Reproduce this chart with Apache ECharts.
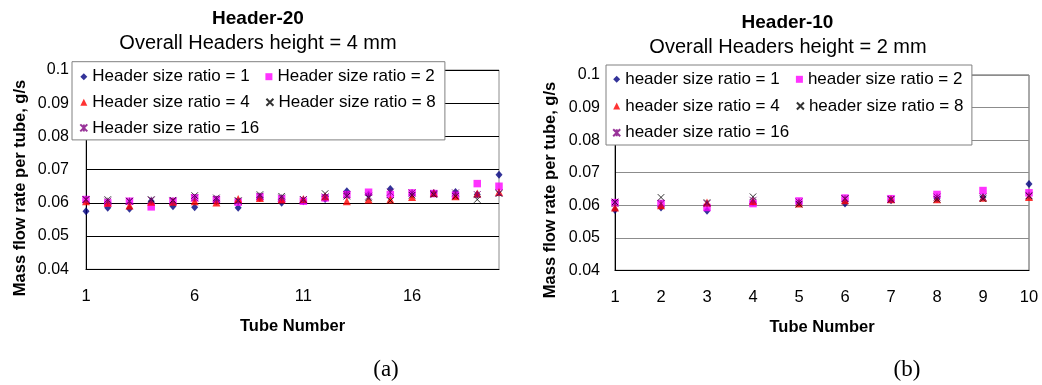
<!DOCTYPE html>
<html>
<head>
<meta charset="utf-8">
<script src="https://cdn.jsdelivr.net/npm/echarts@6/dist/echarts.min.js"></script>
<style>
html,body{margin:0;padding:0;background:#fff;}
#chart{width:1042px;height:385px;}
</style>
</head>
<body>
<div id="chart"></div>
<script>
// ---- Data ----
const tubesA = [1,2,3,4,5,6,7,8,9,10,11,12,13,14,15,16,17,18,19,20];
const tubesB = [1,2,3,4,5,6,7,8,9,10];

const namesA = ['Header size ratio = 1','Header size ratio = 2','Header size ratio = 4','Header size ratio = 8','Header size ratio = 16'];
const namesB = ['header size ratio = 1','header size ratio = 2','header size ratio = 4','header size ratio = 8','header size ratio = 16'];

const a_r1  = [0.0575,0.0585,0.0582,0.0605,0.0590,0.0587,0.0605,0.0585,0.0615,0.0600,0.0605,0.0612,0.0635,0.0625,0.0642,0.0625,0.0630,0.0633,0.0625,0.0685];
const a_r2  = [0.0610,0.0600,0.0605,0.0588,0.0605,0.0615,0.0610,0.0602,0.0618,0.0612,0.0605,0.0615,0.0625,0.0632,0.0625,0.0630,0.0628,0.0623,0.0658,0.0650];
const a_r4  = [0.0605,0.0600,0.0592,0.0603,0.0603,0.0605,0.0601,0.0612,0.0615,0.0610,0.0612,0.0620,0.0605,0.0610,0.0610,0.0618,0.0630,0.0620,0.0628,0.0633];
const a_r8  = [0.0610,0.0610,0.0605,0.0610,0.0608,0.0622,0.0615,0.0607,0.0625,0.0620,0.0610,0.0628,0.0620,0.0615,0.0607,0.0623,0.0625,0.0620,0.0610,0.0628];
const a_r16 = [0.0610,0.0605,0.0605,0.0608,0.0605,0.0615,0.0610,0.0605,0.0620,0.0615,0.0610,0.0618,0.0625,0.0620,0.0632,0.0630,0.0628,0.0630,0.0625,0.0630];

const b_r1  = [0.0585,0.0593,0.0583,0.0610,0.0607,0.0605,0.0615,0.0620,0.0625,0.0665];
const b_r2  = [0.0608,0.0605,0.0593,0.0605,0.0613,0.0622,0.0620,0.0633,0.0645,0.0638];
const b_r4  = [0.0593,0.0600,0.0608,0.0613,0.0605,0.0615,0.0618,0.0618,0.0623,0.0625];
const b_r8  = [0.0610,0.0624,0.0608,0.0626,0.0603,0.0620,0.0618,0.0618,0.0620,0.0628];
const b_r16 = [0.0605,0.0605,0.0605,0.0615,0.0610,0.0620,0.0618,0.0625,0.0625,0.0630];

const yTicks = [0.04,0.05,0.06,0.07,0.08,0.09,0.1];

// ---- Styles ----
const FONT = 'Liberation Sans, Arial, sans-serif';
const markers = [
  {symbol:'diamond', size:[7,8], style:{color:'#000080'}},
  {symbol:'rect', size:7.5, style:{color:'#FF00FF'}},
  {symbol:'triangle', size:8, style:{color:'#FF0000'}},
  {symbol:'path://M0,0L10,10M10,0L0,10', size:6.5, style:{color:'#000', borderColor:'#000', borderWidth:1}},
  {symbol:'path://M0,0L10,10M10,0L0,10M5,0L5,10', size:7, style:{color:'#800080', borderColor:'#800080', borderWidth:1}}
];

function pairs(xs, ys){ return xs.map((x,i)=>[x, ys[i]]); }

const seriesA = [a_r1,a_r2,a_r4,a_r8,a_r16];
const seriesB = [b_r1,b_r2,b_r4,b_r8,b_r16];

const series = [];
seriesA.forEach((ys,i)=>{
  series.push({type:'scatter', name:namesA[i], xAxisIndex:0, yAxisIndex:0,
    symbol:markers[i].symbol, symbolSize:markers[i].size, itemStyle:markers[i].style,
    data:pairs(tubesA, ys), animation:false, z:2+i});
});
seriesB.forEach((ys,i)=>{
  series.push({type:'scatter', name:namesB[i], xAxisIndex:1, yAxisIndex:1,
    symbol:markers[i].symbol, symbolSize:markers[i].size, itemStyle:markers[i].style,
    data:pairs(tubesB, ys), animation:false, z:2+i});
});

function yAxisCfg(gridIndex, lineColor, margin){
  return {
    type:'value', gridIndex, min:yTicks[0], max:yTicks[yTicks.length-1], interval:0.01,
    axisLine:{show:true, lineStyle:{color:'#000', width:1}},
    axisTick:{show:false},
    axisLabel:{color:'#000', fontSize:16, fontFamily:FONT, margin},
    splitLine:{show:true, lineStyle:{color:lineColor, width:1}}
  };
}
function xAxisCfg(gridIndex, max, interval, nameGap){
  return {
    type:'value', gridIndex, min:1, max, interval,
    name:'Tube Number', nameLocation:'middle', nameGap,
    nameTextStyle:{color:'#000', fontSize:16.5, fontWeight:'bold', fontFamily:FONT},
    axisLine:{show:true, onZero:false, lineStyle:{color:'#000', width:1}},
    axisTick:{show:false},
    axisLabel:{color:'#000', fontSize:16.5, fontFamily:FONT, margin:19, showMaxLabel: max===20 ? false : true},
    splitLine:{show:false}
  };
}

function legendCfg(names, left, top, padding, textW, gap, fontSize){
  return {
    data:names, left, top, orient:'horizontal', width: 2*(12+textW)+gap+2,
    padding, itemGap:gap, itemWidth:7, itemHeight:7,
    backgroundColor:'#fff', borderColor:'#808080', borderWidth:1, borderRadius:0,
    selectedMode:false,
    textStyle:{color:'#000', fontSize, fontFamily:FONT, width:textW, lineHeight:18, overflow:'none'}
  };
}

const option = {
  backgroundColor:'#fff',
  animation:false,
  grid:[
    {left:86, top:70, width:413, height:199.3, show:true, borderColor:'#8c8c8c', borderWidth:1, backgroundColor:'transparent'},
    {left:615, top:75, width:414, height:195.3, show:true, borderColor:'#555', borderWidth:1, backgroundColor:'transparent'}
  ],
  xAxis:[ xAxisCfg(0, 20, 5, 49), xAxisCfg(1, 10, 1, 49) ],
  yAxis:[ yAxisCfg(0, '#000', 17), yAxisCfg(1, '#8c8c8c', 15) ],
  legend:[
    legendCfg(namesA, 72, 61.7, [6,1,3,7.3], 165.5, 7.6, 17),
    legendCfg(namesB, 606, 65, [5.3,1,3.3,6.2], 162, 8.7, 17)
  ],
  graphic:[
    {type:'text', x:258, y:19, style:{text:'Header-20', fill:'#000', font:'bold 19px '+FONT, textAlign:'center', textVerticalAlign:'middle'}},
    {type:'text', x:258, y:43, style:{text:'Overall Headers height = 4 mm', fill:'#000', font:'20px '+FONT, textAlign:'center', textVerticalAlign:'middle'}},
    {type:'text', x:787.5, y:23, style:{text:'Header-10', fill:'#000', font:'bold 19px '+FONT, textAlign:'center', textVerticalAlign:'middle'}},
    {type:'text', x:788, y:47.5, style:{text:'Overall Headers height = 2 mm', fill:'#000', font:'20px '+FONT, textAlign:'center', textVerticalAlign:'middle'}},
    {type:'text', x:20, y:188, rotation:Math.PI/2, style:{text:'Mass flow rate per tube, g/s', fill:'#000', font:'bold 16.5px '+FONT, textAlign:'center', textVerticalAlign:'middle'}},
    {type:'text', x:550, y:190, rotation:Math.PI/2, style:{text:'Mass flow rate per tube, g/s', fill:'#000', font:'bold 16.5px '+FONT, textAlign:'center', textVerticalAlign:'middle'}},
    {type:'text', x:386, y:370, style:{text:'(a)', fill:'#000', font:'23px Liberation Serif, Times New Roman, serif', textAlign:'center', textVerticalAlign:'middle'}},
    {type:'text', x:907, y:370, style:{text:'(b)', fill:'#000', font:'23px Liberation Serif, Times New Roman, serif', textAlign:'center', textVerticalAlign:'middle'}}
  ],
  series
};

const chart = echarts.init(document.getElementById('chart'), null, {renderer:'canvas'});
chart.setOption(option);
</script>
</body>
</html>
